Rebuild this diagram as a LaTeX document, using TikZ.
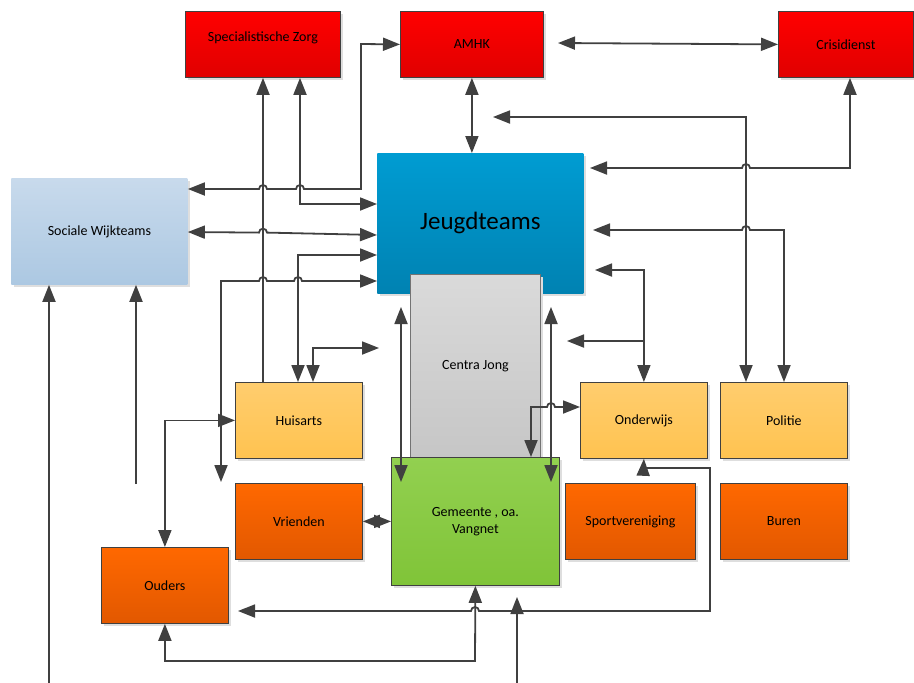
\documentclass[tikz,border=0pt]{standalone}
\usepackage{fontspec}
\setmainfont{Carlito}
\usetikzlibrary{arrows.meta,shadows}

\definecolor{redtop}{RGB}{255,0,0}
\definecolor{redbot}{RGB}{224,0,0}
\definecolor{bluetop}{RGB}{0,156,210}
\definecolor{bluebot}{RGB}{0,130,178}
\definecolor{lighttop}{RGB}{200,218,236}
\definecolor{lightbot}{RGB}{172,200,226}
\definecolor{greytop}{RGB}{218,218,218}
\definecolor{greybot}{RGB}{198,198,198}
\definecolor{yellowtop}{RGB}{255,205,110}
\definecolor{yellowbot}{RGB}{255,195,80}
\definecolor{orangetop}{RGB}{255,104,0}
\definecolor{orangebot}{RGB}{226,88,0}
\definecolor{greentop}{RGB}{146,208,80}
\definecolor{greenbot}{RGB}{128,196,56}
\definecolor{wirecol}{RGB}{64,64,64}

% little bridge where a horizontal line crosses a vertical one
\newcommand{\hopR}[2]{-- (#1-4,#2) arc[start angle=180,end angle=0,radius=4]}
\newcommand{\hopL}[2]{-- (#1+4,#2) arc[start angle=0,end angle=180,radius=4]}

\begin{document}
\begin{tikzpicture}[x=1pt,y=1pt]
\tikzstyle{box}        = [rectangle, anchor=north west, inner sep=0pt, align=center,
                          font=\fontsize{14}{17}\selectfont, draw=wirecol, line width=0.8pt,
                          minimum width=127pt, minimum height=76pt,
                          drop shadow={shadow xshift=3pt, shadow yshift=-3pt, fill=black!13, opacity=1}]
\tikzstyle{box_red}    = [box, top color=redtop, bottom color=redbot]
\tikzstyle{box_blue}   = [box, draw=none, top color=bluetop, bottom color=bluebot]
\tikzstyle{box_light}  = [box, draw=none, top color=lighttop, bottom color=lightbot]
\tikzstyle{box_grey}   = [box, draw=black!55, top color=greytop, bottom color=greybot]
\tikzstyle{box_yellow} = [box, top color=yellowtop, bottom color=yellowbot]
\tikzstyle{box_orange} = [box, top color=orangetop, bottom color=orangebot]
\tikzstyle{box_green}  = [box, top color=greentop, bottom color=greenbot]
\tikzstyle{wire}       = [draw=wirecol, line width=1.8pt]
\tikzstyle{arrow}      = [wire, -{Triangle[length=17pt,width=13pt]}]
\tikzstyle{biarrow}    = [wire, {Triangle[length=17pt,width=13pt]}-{Triangle[length=17pt,width=13pt]}]

\useasboundingbox (0,0) rectangle (914,-683);

\node (spec)      [box_red, minimum width=155pt, minimum height=66pt] at (185,-11) {\raisebox{16pt}{Specialistische Zorg}};
\node (amhk)      [box_red, minimum width=143pt, minimum height=66pt] at (400,-11) {AMHK};
\node (crisis)    [box_red, minimum width=135pt, minimum height=66pt] at (778,-11) {Crisidienst};

\node (swt)       [box_light, minimum width=176pt, minimum height=106pt] at (11,-178) {Sociale Wijkteams};
\node (jeugd)     [box_blue, minimum width=206pt, minimum height=140pt, font=\fontsize{25}{30}\selectfont] at (377,-153) {Jeugdteams};
\node (centra)    [box_grey, minimum width=130pt, minimum height=184pt] at (410,-274) {Centra Jong};

\node (huisarts)  [box_yellow] at (235,-382) {Huisarts};
\node (onderwijs) [box_yellow] at (580,-382) {Onderwijs};
\node (politie)   [box_yellow] at (720,-382) {Politie};

\node (gemeente)  [box_green, minimum width=168pt, minimum height=128pt] at (391,-457) {Gemeente , oa.\\Vangnet};
\node (vrienden)  [box_orange] at (235,-483) {Vrienden};
\node (sport)     [box_orange, minimum width=130pt] at (565,-483) {Sportvereniging};
\node (buren)     [box_orange] at (720,-483) {Buren};
\node (ouders)    [box_orange] at (101,-547) {Ouders};

% loose ends
\coordinate (amhk_end) at (558,-43);
\coordinate (vr_end)   at (221,-482);
\coordinate (ha_end)   at (379,-348);
\coordinate (sw_low)   at (49,-683);
\coordinate (sw_mid)   at (136,-484);
\coordinate (cl_top)   at (401,-307);
\coordinate (cl_bot)   at (401,-482);
\coordinate (cr_top)   at (551,-307);
\coordinate (cr_bot)   at (551,-482);
\coordinate (on_hi)    at (595,-270);
\coordinate (on_lo)    at (567,-341);
\coordinate (po_end)   at (493,-117);
\coordinate (ou_end)   at (238,-611);
\coordinate (bot_low)  at (517,-683);
\coordinate (bot_tip)  at (517,-597);

\draw [biarrow] (amhk_end) -- (crisis.west);
\draw [biarrow] (amhk.south) -- (amhk.south |- jeugd.north);
\draw [biarrow] (amhk.west) -- (361,-44) -- (361,-189) \hopL{300}{-189} \hopL{263}{-189} -- (swt.east |- 0,-189);
\draw [biarrow] (spec.south -| 300,0) -- (300,-204) -- (jeugd.west |- 0,-204);
\draw [arrow]   (huisarts.north -| 263,0) -- (spec.south -| 263,0);
\draw [biarrow] (swt.east |- 0,-232) \hopR{263}{-232.6} -- (jeugd.west |- 0,-235);
\draw [biarrow] (huisarts.north -| 298,0) -- (298,-255) -- (jeugd.west |- 0,-255);
\draw [biarrow] (vr_end) -- (221,-281) \hopR{263}{-281} \hopR{298}{-281} -- (jeugd.west |- 0,-281);
\draw [biarrow] (huisarts.north -| 313,0) -- (313,-348) -- (ha_end);
\draw [biarrow] (huisarts.west) -| (ouders.north);
\draw [arrow]   (sw_low) -- (swt.south -| sw_low);
\draw [arrow]   (sw_mid) -- (swt.south -| sw_mid);

\draw [biarrow] (cl_top) -- (cl_bot);
\draw [biarrow] (cr_top) -- (cr_bot);

\draw [biarrow] (gemeente.north -| 531,0) -- (531,-407) \hopR{551}{-407} -- (onderwijs.west |- 0,-407);
\draw [biarrow] (on_hi) -| (onderwijs.north);
\draw [arrow]   (onderwijs.north |- 0,-341) -- (on_lo);
\draw [biarrow] (po_end) -| (politie.north -| 746,0);
\draw [biarrow] (crisis.south -| 850,0) -- (850,-168) \hopL{746}{-168} -- (590,-168);
\draw [biarrow] (politie.north -| 784,0) -- (784,-230) \hopL{746}{-230} -- (593,-230);

\draw [biarrow] (onderwijs.south) -- (643.5,-468) -- (710,-468) -- (710,-611) \hopL{475}{-611} -- (ou_end);
\draw [biarrow] (gemeente.south) -- (475,-661) -| (ouders.south);
\draw [arrow]   (bot_low) -- (bot_tip);
\draw [biarrow] (vrienden.east) -- (gemeente.west |- vrienden.east);
\end{tikzpicture}
\end{document}
